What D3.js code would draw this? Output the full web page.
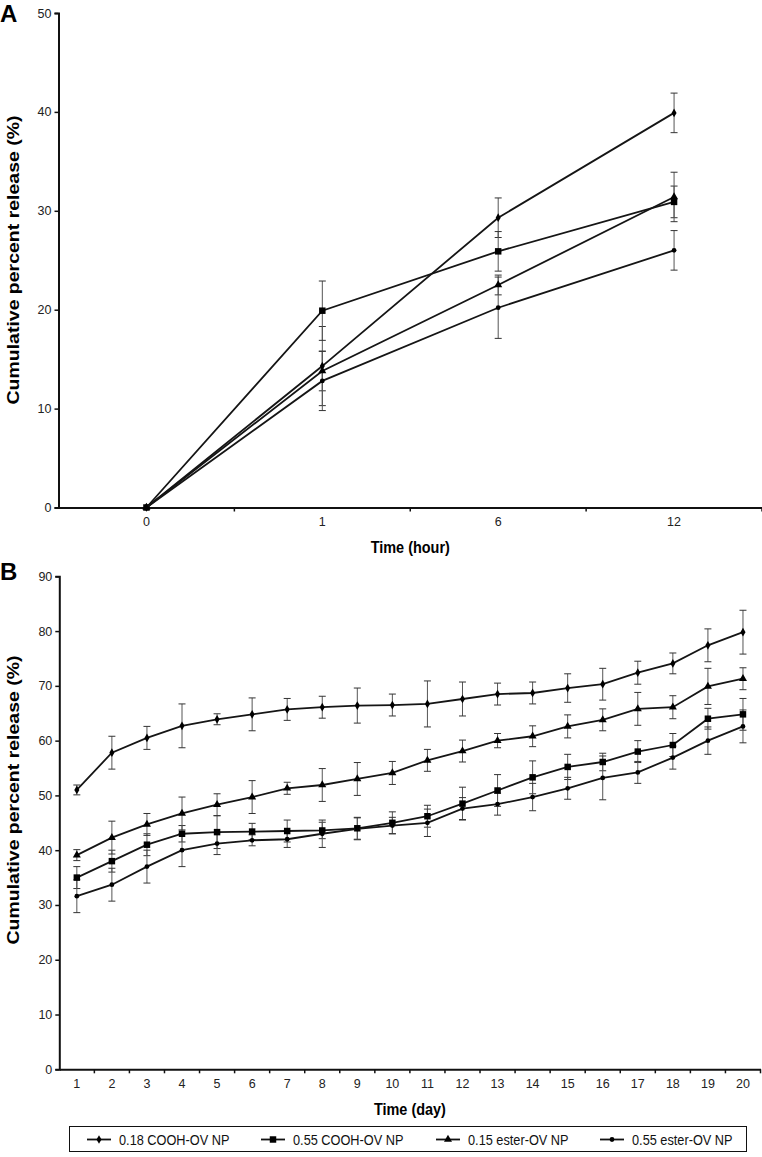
<!DOCTYPE html>
<html><head><meta charset="utf-8">
<script src="https://cdn.jsdelivr.net/npm/d3@7"></script>
<style>body{margin:0;background:#fff}svg{display:block;font-family:"Liberation Sans",Arial,sans-serif}</style>
</head><body><svg id="c" width="762" height="1157"></svg>
<script>
// ---- Panel A data ----
const hoursA = ["0", "1", "6", "12"];
const aCOOH018 = [0, 14.3, 29.3, 39.9];
const aCOOH018Err = [0, 4.0, 2.0, 2.0];
const aCOOH055 = [0, 19.9, 25.9, 30.9];
const aCOOH055Err = [0, 3.0, 2.0, 1.6];
const aEster015 = [0, 13.8, 22.5, 31.4];
const aEster015Err = [0, 2.0, 1.0, 2.5];
const aEster055 = [0, 12.8, 20.2, 26.0];
const aEster055Err = [0, 3.0, 3.1, 2.0];
const yTicksA = [0, 10, 20, 30, 40, 50];

// ---- Panel B data ----
const daysB = ["1","2","3","4","5","6","7","8","9","10","11","12","13","14","15","16","17","18","19","20"];
const bCOOH018 = [51.0, 57.8, 60.5, 62.7, 63.9, 64.8, 65.7, 66.1, 66.4, 66.5, 66.7, 67.6, 68.5, 68.7, 69.6, 70.3, 72.4, 74.1, 77.4, 79.8];
const bCOOH018Err = [0.9, 3.0, 2.1, 4.0, 1.0, 3.0, 2.0, 2.0, 3.2, 2.0, 4.2, 3.1, 2.0, 2.0, 2.6, 2.9, 2.1, 1.9, 3.0, 4.0];
const bCOOH055 = [35.0, 38.0, 41.0, 43.0, 43.3, 43.4, 43.5, 43.6, 44.0, 45.0, 46.2, 48.5, 50.9, 53.3, 55.2, 56.1, 58.0, 59.2, 64.0, 64.8];
const bCOOH055Err = [2.0, 2.0, 2.0, 1.5, 3.0, 1.5, 2.0, 1.5, 2.0, 2.0, 2.0, 3.0, 2.9, 3.0, 2.3, 1.6, 2.0, 2.1, 1.9, 2.9];
const bEster015 = [39.1, 42.3, 44.7, 46.7, 48.3, 49.7, 51.3, 51.9, 53.0, 54.1, 56.4, 58.1, 60.0, 60.8, 62.6, 63.8, 65.8, 66.1, 69.9, 71.3];
const bEster015Err = [1.0, 3.0, 2.0, 3.0, 2.0, 3.0, 1.1, 3.0, 3.0, 2.1, 2.0, 2.0, 1.3, 1.9, 2.1, 2.0, 3.0, 2.1, 3.3, 2.0];
const bEster055 = [31.6, 33.7, 37.0, 40.0, 41.2, 41.8, 42.0, 43.0, 43.9, 44.5, 45.0, 47.6, 48.4, 49.7, 51.3, 53.2, 54.2, 56.9, 60.0, 62.6];
const bEster055Err = [3.0, 3.0, 3.0, 3.0, 2.0, 1.0, 1.5, 2.5, 2.0, 1.5, 2.5, 2.0, 2.0, 2.5, 2.0, 4.0, 2.0, 2.1, 2.5, 3.0];
const yTicksB = [0, 10, 20, 30, 40, 50, 60, 70, 80, 90];

const seriesNames = ["0.18 COOH-OV NP", "0.55 COOH-OV NP", "0.15 ester-OV NP", "0.55 ester-OV NP"];
const markerTypes = ["diamond", "square", "triangle", "circle"];

const svg = d3.select("#c");

const symbolFor = t => ({
  diamond: d3.symbol().type(d3.symbolDiamond).size(22),
  square: d3.symbol().type(d3.symbolSquare).size(42),
  triangle: d3.symbol().type(d3.symbolTriangle).size(28),
  circle: d3.symbol().type(d3.symbolCircle).size(18)
})[t];

function panel(opts) {
  const {cats, series, errs, yDomain, yTicks, left, right, top, bottom, xLabel, letter, letterY, xLabelY, yLabelY} = opts;
  const x = d3.scaleBand().domain(cats).range([left, right]);
  const y = d3.scaleLinear().domain(yDomain).range([bottom, top]);
  const g = svg.append("g");

  // y axis
  const ya = g.append("g").attr("transform", `translate(${left},0)`)
    .call(d3.axisLeft(y).tickValues(yTicks).tickSize(4).tickPadding(3));
  ya.select(".domain").attr("stroke", "#111").attr("stroke-width", 2);
  ya.selectAll(".tick line").attr("stroke", "#111").attr("stroke-width", 1.5);
  ya.selectAll("text").attr("font-size", 12.5).attr("fill", "#222").style("font-family", "Liberation Sans, Arial, sans-serif");

  // x axis
  const xa = g.append("g").attr("transform", `translate(0,${bottom})`)
    .call(d3.axisBottom(x).tickSize(0).tickPadding(10));
  xa.select(".domain").attr("stroke", "#111").attr("stroke-width", 2);
  xa.selectAll("text").attr("font-size", 12.5).attr("fill", "#222").style("font-family", "Liberation Sans, Arial, sans-serif");
  // band-edge ticks
  const edges = cats.map(c => x(c)).concat([x(cats[cats.length-1]) + x.bandwidth()]).slice(1);
  g.append("g").selectAll("line").data(edges).join("line")
    .attr("x1", d => d).attr("x2", d => d).attr("y1", bottom).attr("y2", bottom + 4)
    .attr("stroke", "#111").attr("stroke-width", 1.5);

  // labels
  g.append("text").attr("transform", `translate(${(left + right) / 2},${xLabelY}) scale(0.85,1)`).attr("text-anchor", "middle")
    .attr("font-size", 17).attr("font-weight", "bold").text(xLabel);
  g.append("text").attr("transform", `translate(19,${yLabelY}) scale(0.8,1) rotate(-90)`).attr("text-anchor", "middle")
    .attr("font-size", 19.5).attr("font-weight", "bold").text("Cumulative percent release (%)");
  g.append("text").attr("x", 0).attr("y", letterY).attr("font-size", 24).attr("font-weight", "bold").text(letter);

  const cx = c => x(c) + x.bandwidth() / 2;

  // error bars
  series.forEach((vals, si) => {
    const eg = g.append("g");
    const data = cats.map((c, i) => ({c, v: vals[i], e: errs[si][i]})).filter(d => d.e > 0);
    eg.selectAll("line.v").data(data).join("line")
      .attr("x1", d => cx(d.c)).attr("x2", d => cx(d.c))
      .attr("y1", d => y(d.v - d.e)).attr("y2", d => y(d.v + d.e))
      .attr("stroke", "#555").attr("stroke-width", 1);
    ["-", "+"].forEach(s => {
      eg.selectAll("line.c" + (s === "-" ? "m" : "p")).data(data).join("line")
        .attr("x1", d => cx(d.c) - 3.5).attr("x2", d => cx(d.c) + 3.5)
        .attr("y1", d => y(s === "-" ? d.v - d.e : d.v + d.e))
        .attr("y2", d => y(s === "-" ? d.v - d.e : d.v + d.e))
        .attr("stroke", "#333").attr("stroke-width", 1);
    });
  });

  // lines + markers
  const line = d3.line().x(d => cx(d.c)).y(d => y(d.v));
  series.forEach((vals, si) => {
    const data = cats.map((c, i) => ({c, v: vals[i]}));
    g.append("path").datum(data).attr("d", line).attr("fill", "none")
      .attr("stroke", "#151515").attr("stroke-width", 1.8);
    g.append("g").selectAll("path").data(data).join("path")
      .attr("d", symbolFor(markerTypes[si]))
      .attr("transform", d => `translate(${cx(d.c)},${y(d.v)})`)
      .attr("fill", "#000");
  });
}

panel({
  cats: hoursA,
  series: [aCOOH018, aCOOH055, aEster015, aEster055],
  errs: [aCOOH018Err, aCOOH055Err, aEster015Err, aEster055Err],
  yDomain: [0, 50], yTicks: yTicksA,
  left: 58.5, right: 762, top: 13, bottom: 507.5,
  xLabel: "Time (hour)", letter: "A", letterY: 22, xLabelY: 553, yLabelY: 260
});

panel({
  cats: daysB,
  series: [bCOOH018, bCOOH055, bEster015, bEster055],
  errs: [bCOOH018Err, bCOOH055Err, bEster015Err, bEster055Err],
  yDomain: [0, 90], yTicks: yTicksB,
  left: 59.3, right: 760.5, top: 576.3, bottom: 1069.3,
  xLabel: "Time (day)", letter: "B", letterY: 580, xLabelY: 1115, yLabelY: 800
});

// legend
const lg = svg.append("g");
lg.append("rect").attr("x", 69.5).attr("y", 1126.5).attr("width", 677).attr("height", 25)
  .attr("fill", "#fff").attr("stroke", "#111").attr("stroke-width", 1);
const legendX = [87, 261, 436, 600];
seriesNames.forEach((name, i) => {
  const gx = legendX[i], gy = 1139.5;
  lg.append("line").attr("x1", gx).attr("x2", gx + 24).attr("y1", gy).attr("y2", gy)
    .attr("stroke", "#111").attr("stroke-width", 1.8);
  lg.append("path").attr("d", symbolFor(markerTypes[i])).attr("transform", `translate(${gx + 12},${gy})`).attr("fill", "#000");
  lg.append("text").attr("transform", `translate(${gx + 32},${gy + 5}) scale(0.88,1)`).attr("font-size", 14.5).attr("fill", "#111").text(name);
});
</script></body></html>
